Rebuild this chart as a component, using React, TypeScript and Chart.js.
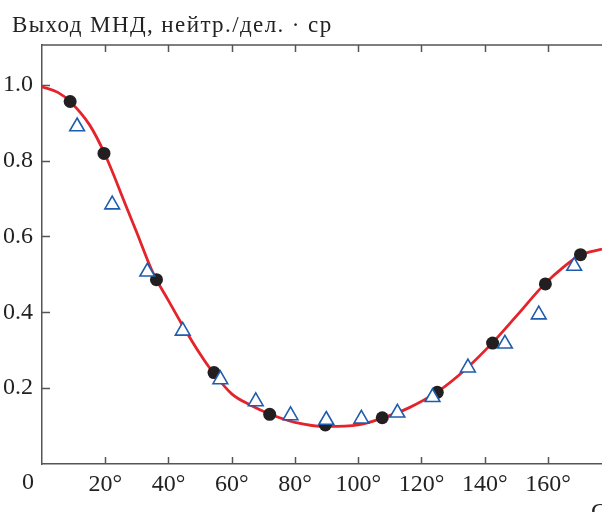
import React, { useEffect, useRef } from 'react';
import { Chart, registerables } from 'chart.js';

Chart.register(...registerables);

// ---- data ----
const circleAngles = [8.9, 19.6, 36.2, 54.4, 72.0, 89.6, 107.6, 125.0, 142.5, 159.2, 170.3];
const circleYield = [0.956, 0.819, 0.486, 0.241, 0.131, 0.103, 0.122, 0.189, 0.319, 0.475, 0.552];

const triangleAngles = [11.1, 22.2, 33.3, 44.5, 56.4, 67.6, 78.6, 89.9, 101.0, 112.4, 123.5, 134.7, 146.4, 157.1, 168.3];
const triangleYield = [0.890, 0.684, 0.507, 0.351, 0.223, 0.165, 0.128, 0.116, 0.119, 0.135, 0.176, 0.254, 0.317, 0.394, 0.522];

const curveAngles = [0, 5, 9, 15, 20, 26.6, 30, 35.1, 40, 44, 50, 53.5, 60, 66, 72, 80, 90, 100, 108, 116, 125, 134, 142.5, 150, 159, 165, 170, 177.1];
const curveYield = [0.995, 0.980, 0.955, 0.895, 0.815, 0.680, 0.610, 0.504, 0.431, 0.372, 0.290, 0.248, 0.185, 0.155, 0.132, 0.110, 0.099, 0.103, 0.122, 0.148, 0.190, 0.250, 0.320, 0.390, 0.475, 0.520, 0.550, 0.567];

const xTickValues = [0, 20, 40, 60, 80, 100, 120, 140, 160];
const yTickValues = [0, 0.2, 0.4, 0.6, 0.8, 1.0];
const xMin = 0;
const xMax = 177.1;
const yMin = 0;
const yMax = 1.105;

const yTitle = 'Выход МНД, нейтр./дел. · ср';
const xTitle = 'Ω';
const originLabel = '0';

const FONT = '"Liberation Serif", "Times New Roman", serif';
const TEXT = '#222222';
const AXIS = '#555555';

const decorPlugin = {
  id: 'decor',
  beforeDatasetsDraw(chart: any) {
    const { ctx, chartArea } = chart;
    const xs = chart.scales.x;
    const ys = chart.scales.y;
    ctx.save();
    ctx.strokeStyle = AXIS;
    ctx.lineWidth = 1.5;
    ctx.beginPath();
    ctx.moveTo(chartArea.left, chartArea.top);
    ctx.lineTo(chartArea.right, chartArea.top);
    xTickValues.forEach((v) => {
      if (v === 0) return;
      const px = Math.round(xs.getPixelForValue(v)) + 0.5;
      ctx.moveTo(px, chartArea.bottom);
      ctx.lineTo(px, chartArea.bottom - 7);
      ctx.moveTo(px, chartArea.top);
      ctx.lineTo(px, chartArea.top + 7);
    });
    yTickValues.forEach((v) => {
      if (v === 0) return;
      const py = Math.round(ys.getPixelForValue(v)) + 0.5;
      ctx.moveTo(chartArea.left, py);
      ctx.lineTo(chartArea.left + 8, py);
    });
    ctx.stroke();
    ctx.restore();
  },
  afterDraw(chart: any) {
    const { ctx, chartArea } = chart;
    ctx.save();
    ctx.fillStyle = TEXT;
    ctx.textBaseline = 'alphabetic';
    ctx.font = `23px ${FONT}`;
    (ctx as any).letterSpacing = '1.4px';
    ctx.textAlign = 'left';
    ctx.fillText(yTitle, 12, 32);
    (ctx as any).letterSpacing = '0px';
    ctx.font = `24px ${FONT}`;
    ctx.textAlign = 'center';
    ctx.fillText(originLabel, chartArea.left - 14, chartArea.bottom + 25);
    ctx.font = `italic 24px ${FONT}`;
    ctx.textAlign = 'left';
    ctx.fillText(xTitle, chartArea.right - 12, chartArea.bottom + 55);
    ctx.restore();
  },
};

export default function App() {
  const canvasRef = useRef<HTMLCanvasElement | null>(null);

  useEffect(() => {
    document.body.style.margin = '0';
    const canvas = canvasRef.current;
    if (!canvas) return;

    const chart = new Chart(canvas, {
      type: 'line',
      data: {
        datasets: [
          {
            label: 'triangles',
            data: triangleAngles.map((a, i) => ({ x: a, y: triangleYield[i] })),
            showLine: false,
            pointStyle: 'triangle',
            pointRadius: 8.5,
            pointBorderWidth: 1.6,
            pointBorderColor: '#1f5cad',
            pointBackgroundColor: '#ffffff',
            borderColor: '#1f5cad',
            backgroundColor: '#ffffff',
            order: 0,
          },
          {
            label: 'circles',
            data: circleAngles.map((a, i) => ({ x: a, y: circleYield[i] })),
            showLine: false,
            pointStyle: 'circle',
            pointRadius: 6.5,
            pointBorderWidth: 0,
            pointBackgroundColor: '#231f20',
            borderColor: '#231f20',
            backgroundColor: '#231f20',
            order: 1,
          },
          {
            label: 'curve',
            data: curveAngles.map((a, i) => ({ x: a, y: curveYield[i] })),
            borderColor: '#e5232a',
            borderWidth: 2.8,
            pointRadius: 0,
            cubicInterpolationMode: 'monotone',
            fill: false,
            order: 2,
          },
        ],
      },
      options: {
        responsive: false,
        animation: false,
        devicePixelRatio: 1,
        layout: { autoPadding: false, padding: { top: 45, right: 0, left: 0, bottom: 0 } },
        plugins: {
          legend: { display: false },
          tooltip: { enabled: false },
          title: { display: false },
        },
        scales: {
          x: {
            type: 'linear',
            min: xMin,
            max: xMax,
            afterBuildTicks: (scale: any) => {
              scale.ticks = xTickValues.map((v) => ({ value: v }));
            },
            afterFit: (scale: any) => {
              scale.height = 48;
              scale.paddingLeft = 0;
              scale.paddingRight = 0;
            },
            grid: { display: false, drawTicks: false },
            border: { display: true, color: AXIS, width: 1.5 },
            ticks: {
              autoSkip: false,
              maxRotation: 0,
              padding: 6,
              color: TEXT,
              font: { family: FONT, size: 24 },
              callback: (v: any) => (Number(v) === 0 ? '' : `${v}°`),
            },
          },
          y: {
            type: 'linear',
            min: yMin,
            max: yMax,
            afterBuildTicks: (scale: any) => {
              scale.ticks = yTickValues.map((v) => ({ value: v }));
            },
            afterFit: (scale: any) => {
              scale.width = 42;
              scale.paddingTop = 0;
              scale.paddingBottom = 0;
            },
            grid: { display: false, drawTicks: false },
            border: { display: true, color: AXIS, width: 1.5 },
            ticks: {
              autoSkip: false,
              padding: 9,
              color: TEXT,
              font: { family: FONT, size: 24 },
              callback: (v: any) => (Number(v) === 0 ? '' : Number(v).toFixed(1)),
            },
          },
        },
      },
      plugins: [decorPlugin],
    } as any);

    return () => chart.destroy();
  }, []);

  return (
    <div style={{ width: 602, height: 512 }}>
      <canvas ref={canvasRef} width={602} height={512} style={{ display: 'block' }} />
    </div>
  );
}
